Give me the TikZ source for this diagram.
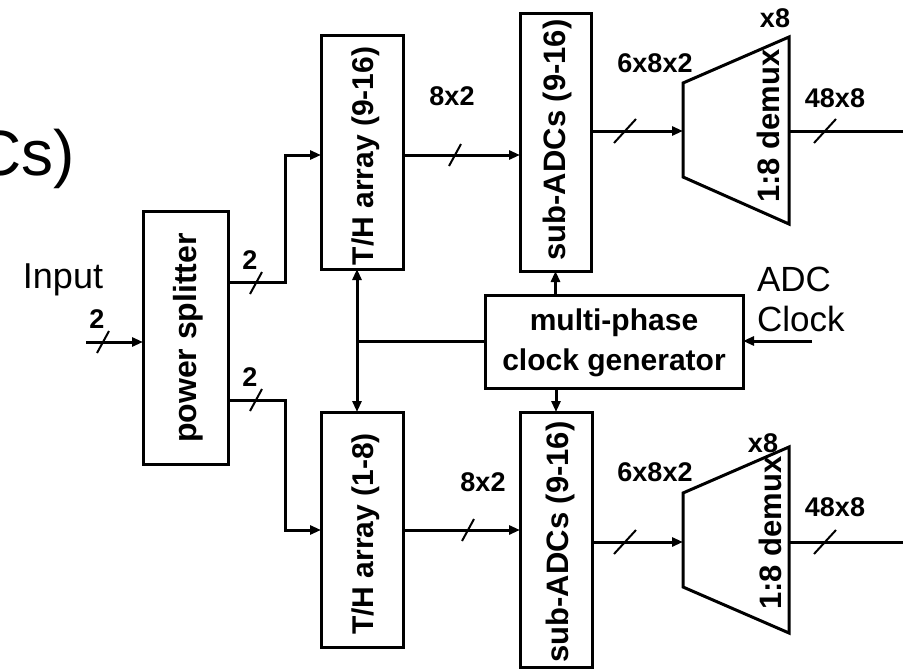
\documentclass[tikz,border=0pt]{standalone}
\usepackage{fontspec}
\setmainfont{Liberation Sans}
\usetikzlibrary{arrows.meta}
\begin{document}
\begin{tikzpicture}[x=1pt,y=-1pt,line width=3pt,
  every node/.style={inner sep=0pt,outer sep=0pt},
  box/.style={draw,line width=3pt},
  arr/.style={-{Triangle[length=11pt,width=9pt]}},
  lab/.style={font=\fontsize{27}{32}\selectfont\bfseries},
  big/.style={font=\fontsize{31}{36}\selectfont\bfseries},
  reg/.style={font=\fontsize{36}{40}\selectfont},
  rot/.style={rotate=90},
  bs/.pic={\draw[line width=2pt] (-6,11) -- (6,-11);},
  bw/.pic={\draw[line width=2pt] (-11,12) -- (11,-12);}
]
\useasboundingbox (0,0) rectangle (903,672);

% title fragment
\node[font=\fontsize{64}{70}\selectfont,anchor=base east] (ttl) at (75,175) {Cs)};

% boxes
\node[box,minimum width=85pt,minimum height=253pt] (ps) at (185.5,337.5) {};
\node[box,minimum width=82pt,minimum height=234pt] (thA) at (362,152) {};
\node[box,minimum width=82pt,minimum height=235pt] (thB) at (362,529.5) {};
\node[box,minimum width=71pt,minimum height=258pt] (adA) at (555.5,142) {};
\node[box,minimum width=72pt,minimum height=255pt] (adB) at (556,539.5) {};
\node[box,minimum width=258pt,minimum height=93pt] (clk) at (614,341.5) {};

% box texts
\node[rot,font=\fontsize{32}{36}\selectfont\bfseries] (pst) at (188,338) {power splitter};
\node[rot,font=\fontsize{30}{36}\selectfont\bfseries] (thAt) at (366,156) {T/H array (9-16)};
\node[rot,font=\fontsize{30}{36}\selectfont\bfseries] (thBt) at (366,534) {T/H array (1-8)};
\node[big,rot] (adAt) at (557,140) {sub-ADCs (9-16)};
\node[big,rot] (adBt) at (560,542) {sub-ADCs (9-16)};
\node[align=center,font=\fontsize{30}{40}\selectfont\bfseries] (clkt) at (614,343) {multi-phase\\clock generator};

% demuxes
\draw[line width=3pt] (683,83) -- (789,37) -- (789,224) -- (683,177) -- cycle;
\draw[line width=3pt] (683,493) -- (789,447) -- (789,633) -- (683,587) -- cycle;
\node[big,rot] (dmAt) at (768,126) {1:8 demux};
\node[big,rot] (dmBt) at (770,533) {1:8 demux};
\node[lab] (x8A) at (775,18) {x8};
\node[lab] (x8B) at (763,443) {x8};

% input
\node[reg] (inl) at (63,280) {Input};
\coordinate (inp) at (86,342);
\draw[arr] (inp) -- (inp -| ps.west);
\pic at (103,342) {bs};
\node[lab] (in2) at (97,319) {2};

% splitter outputs
\coordinate (kA) at (285,282);
\coordinate (kA2) at (285,155);
\coordinate (kB) at (285,400);
\coordinate (kB2) at (285,530);
\draw[arr] (ps.east |- kA) -- (kA) -- (kA2) -- (kA2 -| thA.west);
\draw[arr] (ps.east |- kB) -- (kB) -- (kB2) -- (kB2 -| thB.west);
\pic at (256,283) {bs};
\pic at (256,400) {bs};
\node[lab] (pA2) at (250,260) {2};
\node[lab] (pB2) at (250,377) {2};

% T/H -> sub-ADC
\draw[arr] (thA.east |- kA2) -- (kA2 -| adA.west);
\draw[arr] (thB.east |- kB2) -- (kB2 -| adB.west);
\pic at (455,155) {bs};
\pic at (468,530) {bs};
\node[lab] (tA) at (452,96) {8x2};
\node[lab] (tB) at (483,482) {8x2};

% sub-ADC -> demux -> out
\coordinate (dA) at (683,131);
\coordinate (dA2) at (789,131);
\coordinate (oA) at (903,131);
\coordinate (dB) at (683,542);
\coordinate (dB2) at (789,542);
\coordinate (oB) at (903,542);
\draw[arr] (adA.east |- dA) -- (dA);
\draw[arr] (adB.east |- dB) -- (dB);
\draw (dA2) -- (oA);
\draw (dB2) -- (oB);
\pic at (625,131) {bw};
\pic at (625,542) {bw};
\pic at (825,131) {bw};
\pic at (825,542) {bw};
\node[lab] (sA) at (655,63) {6x8x2};
\node[lab] (sB) at (655,472) {6x8x2};
\node[lab] (oAl) at (835,98) {48x8};
\node[lab] (oBl) at (835,507) {48x8};

% clock
\node[align=left,anchor=west,font=\fontsize{35}{40}\selectfont] (adcclk) at (757,299) {ADC\\Clock};
\coordinate (ck) at (812,341);
\draw[arr] (ck) -- (ck -| clk.east);
\draw[arr] (adA.south |- clk.north) -- (adA.south);
\draw[arr] (adB.north |- clk.south) -- (adB.north);
\coordinate (j) at (357,341.5);
\draw (clk.west) -- (j);
\draw[arr] (j) -- (j |- thA.south);
\draw[arr] (j) -- (j |- thB.north);
\end{tikzpicture}
\end{document}
